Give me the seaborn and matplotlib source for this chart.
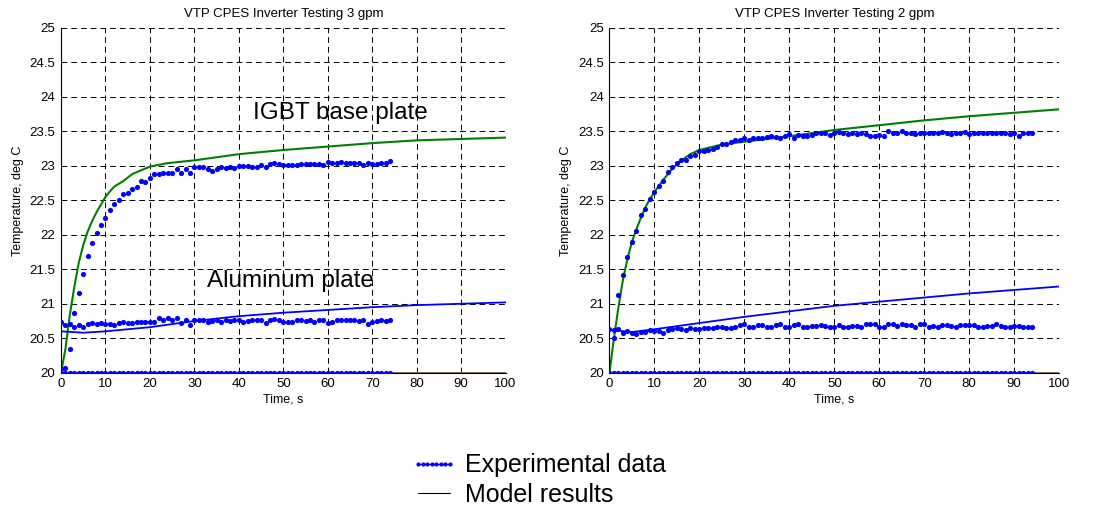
import seaborn as sns
import matplotlib.pyplot as plt
from matplotlib.lines import Line2D
import numpy as np
import pandas as pd

# measured data, 1 s sampling
time_3gpm = list(range(0, 75))
igbt_3gpm = [20.05, 20.07, 20.35, 20.87, 21.15, 21.43, 21.69, 21.88, 22.03, 22.14,
             22.25, 22.36, 22.44, 22.51, 22.59, 22.61, 22.66, 22.70, 22.78, 22.76,
             22.82, 22.88, 22.88, 22.90, 22.90, 22.90, 22.95, 22.90, 22.96, 22.89,
             22.98, 22.99, 22.99, 22.96, 22.92, 22.95, 22.99, 22.97, 22.98, 22.97,
             23.00, 23.00, 23.00, 22.99, 22.98, 23.01, 22.98, 23.02, 23.04, 23.02,
             23.01, 23.01, 23.01, 23.01, 23.03, 23.02, 23.02, 23.02, 23.02, 23.01,
             23.06, 23.04, 23.04, 23.06, 23.04, 23.04, 23.04, 23.04, 23.01, 23.04,
             23.03, 23.03, 23.04, 23.04, 23.07]
alum_3gpm = [20.74, 20.69, 20.70, 20.67, 20.69, 20.67, 20.71, 20.72, 20.71, 20.72,
             20.71, 20.71, 20.69, 20.72, 20.74, 20.72, 20.72, 20.74, 20.74, 20.74,
             20.74, 20.74, 20.79, 20.76, 20.79, 20.76, 20.79, 20.72, 20.76, 20.69,
             20.76, 20.77, 20.76, 20.74, 20.75, 20.76, 20.74, 20.76, 20.75, 20.76,
             20.76, 20.74, 20.75, 20.76, 20.76, 20.77, 20.72, 20.76, 20.78, 20.76,
             20.73, 20.74, 20.74, 20.77, 20.77, 20.75, 20.76, 20.73, 20.76, 20.76,
             20.72, 20.74, 20.77, 20.76, 20.76, 20.76, 20.76, 20.75, 20.76, 20.71,
             20.74, 20.75, 20.76, 20.75, 20.76]
water_3gpm = [20.0] * len(time_3gpm)

time_2gpm = list(range(0, 95))
igbt_2gpm = [20.00, 20.51, 21.13, 21.42, 21.68, 21.89, 22.05, 22.29, 22.38, 22.52,
             22.62, 22.71, 22.78, 22.91, 22.99, 23.04, 23.08, 23.08, 23.15, 23.16,
             23.22, 23.21, 23.23, 23.24, 23.28, 23.31, 23.31, 23.35, 23.37, 23.37,
             23.40, 23.37, 23.40, 23.41, 23.41, 23.42, 23.43, 23.42, 23.41, 23.43,
             23.46, 23.41, 23.45, 23.43, 23.43, 23.45, 23.48, 23.48, 23.48, 23.45,
             23.48, 23.49, 23.47, 23.46, 23.47, 23.46, 23.48, 23.46, 23.44, 23.44,
             23.45, 23.44, 23.51, 23.48, 23.48, 23.50, 23.48, 23.48, 23.46, 23.48,
             23.48, 23.48, 23.47, 23.47, 23.49, 23.47, 23.46, 23.48, 23.47, 23.49,
             23.46, 23.48, 23.47, 23.47, 23.47, 23.48, 23.47, 23.47, 23.47, 23.46,
             23.47, 23.44, 23.47, 23.48, 23.48]
alum_2gpm = [20.63, 20.62, 20.63, 20.58, 20.60, 20.57, 20.56, 20.59, 20.59, 20.62,
             20.61, 20.61, 20.58, 20.62, 20.64, 20.65, 20.64, 20.62, 20.65, 20.63,
             20.64, 20.65, 20.65, 20.65, 20.67, 20.66, 20.65, 20.65, 20.66, 20.69,
             20.70, 20.67, 20.67, 20.69, 20.69, 20.67, 20.67, 20.69, 20.70, 20.67,
             20.67, 20.69, 20.70, 20.67, 20.67, 20.68, 20.68, 20.69, 20.68, 20.67,
             20.67, 20.69, 20.67, 20.67, 20.68, 20.68, 20.66, 20.71, 20.71, 20.71,
             20.67, 20.67, 20.71, 20.70, 20.68, 20.70, 20.69, 20.69, 20.67, 20.70,
             20.70, 20.66, 20.68, 20.67, 20.69, 20.69, 20.68, 20.67, 20.69, 20.69,
             20.69, 20.69, 20.67, 20.66, 20.68, 20.68, 20.71, 20.68, 20.67, 20.67,
             20.68, 20.68, 20.67, 20.67, 20.67]
water_2gpm = [20.0] * len(time_2gpm)

# model results
model_t_igbt_3 = [0, 1, 2, 3, 4, 5, 6, 7, 8, 10, 11, 12, 14, 16, 20, 24, 30, 40, 50, 60, 70, 80, 90, 100]
model_igbt_3 = [20.0, 20.35, 20.85, 21.25, 21.6, 21.85, 22.05, 22.2, 22.33, 22.55, 22.63, 22.7,
                22.78, 22.88, 22.99, 23.04, 23.08, 23.17, 23.23, 23.28, 23.33, 23.37, 23.39, 23.41]
model_t_alum_3 = [0, 5, 10, 20, 30, 40, 50, 60, 70, 80, 90, 100]
model_alum_3 = [20.60, 20.58, 20.60, 20.66, 20.75, 20.82, 20.87, 20.91, 20.95, 20.98, 21.0, 21.02]

model_t_igbt_2 = [0, 1, 2, 3, 4, 5, 6, 7, 8, 9, 10, 12, 14, 16, 18, 20, 25, 30, 35, 40, 50, 60, 70, 80, 90, 100]
model_igbt_2 = [20.0, 20.5, 20.95, 21.35, 21.65, 21.9, 22.08, 22.25, 22.4, 22.52, 22.62, 22.8, 22.96,
                23.08, 23.17, 23.23, 23.31, 23.35, 23.39, 23.43, 23.52, 23.59, 23.66, 23.72, 23.77, 23.82]
model_t_alum_2 = [0, 5, 10, 20, 30, 40, 50, 60, 70, 80, 90, 100]
model_alum_2 = [20.62, 20.59, 20.63, 20.72, 20.81, 20.89, 20.97, 21.03, 21.09, 21.15, 21.2, 21.25]

model_t_water = [0, 100]
model_water = [20.0, 20.0]

titles = ["VTP CPES Inverter Testing 3 gpm", "VTP CPES Inverter Testing 2 gpm"]

sns.set_style("white")
plt.rcParams['font.family'] = ['Liberation Sans', 'DejaVu Sans']
plt.rcParams['text.color'] = 'black'
plt.rcParams['axes.labelcolor'] = 'black'

fig = plt.figure(figsize=(10.94, 5.07), dpi=100)
ax1 = fig.add_axes([0.0558, 0.2649, 0.4063, 0.6799])
ax2 = fig.add_axes([0.5571, 0.2649, 0.4110, 0.6799])

panels = [
    (ax1, time_3gpm, igbt_3gpm, alum_3gpm, water_3gpm,
     model_t_igbt_3, model_igbt_3, model_t_alum_3, model_alum_3),
    (ax2, time_2gpm, igbt_2gpm, alum_2gpm, water_2gpm,
     model_t_igbt_2, model_igbt_2, model_t_alum_2, model_alum_2),
]

for i, (ax, t, ig, al, wa, mti, mi, mta, ma) in enumerate(panels):
    sns.lineplot(x=model_t_water, y=model_water, color="#7a6446", lw=1.3, ax=ax)
    sns.lineplot(x=mti, y=mi, color="#008000", lw=1.5, ax=ax)
    sns.lineplot(x=mta, y=ma, color="#0000ff", lw=1.3, ax=ax)
    for series in (wa, al, ig):
        sns.scatterplot(x=t, y=series, color="#0000ff", s=14, linewidth=0, ax=ax, zorder=3)

    ax.set_xlim(0, 100)
    ax.set_ylim(20, 25)
    ax.set_xticks(np.arange(0, 101, 10))
    ax.set_yticks(np.arange(20, 25.01, 0.5))
    ax.set_yticklabels(["20", "20.5", "21", "21.5", "22", "22.5", "23", "23.5", "24", "24.5", "25"])
    ax.grid(True, color="black", linestyle=(0, (6, 4)), linewidth=0.7)
    ax.tick_params(direction="in", length=4, labelsize=9.5, colors="black", pad=4)
    for side in ("top", "right"):
        ax.spines[side].set_visible(False)
    for side in ("left", "bottom"):
        ax.spines[side].set_color("black")
        ax.spines[side].set_linewidth(0.8)
    ax.set_title(titles[i], fontsize=9.5, pad=8)
    ax.set_xlabel("Time, s", fontsize=9, labelpad=2)
    ax.set_ylabel("Temperature, deg C", fontsize=9, labelpad=4)

ax1.text(62.8, 23.77, "IGBT base plate", fontsize=17.5, ha="center", va="center")
ax1.text(51.5, 21.33, "Aluminum plate", fontsize=17.5, ha="center", va="center")

handles = [
    Line2D([], [], color="#0000ff", lw=1.0, marker="o", markersize=3.0,
           markerfacecolor="#0000ff", markeredgewidth=0),
    Line2D([], [], color="black", lw=0.8),
]
fig.legend(handles, ["Experimental data", "Model results"], loc="center",
           bbox_to_anchor=(0.492, 0.053), frameon=False, fontsize=18,
           handlelength=1.85, handletextpad=0.3, labelspacing=0.22, numpoints=8)

plt.savefig("out.png", dpi=100)
